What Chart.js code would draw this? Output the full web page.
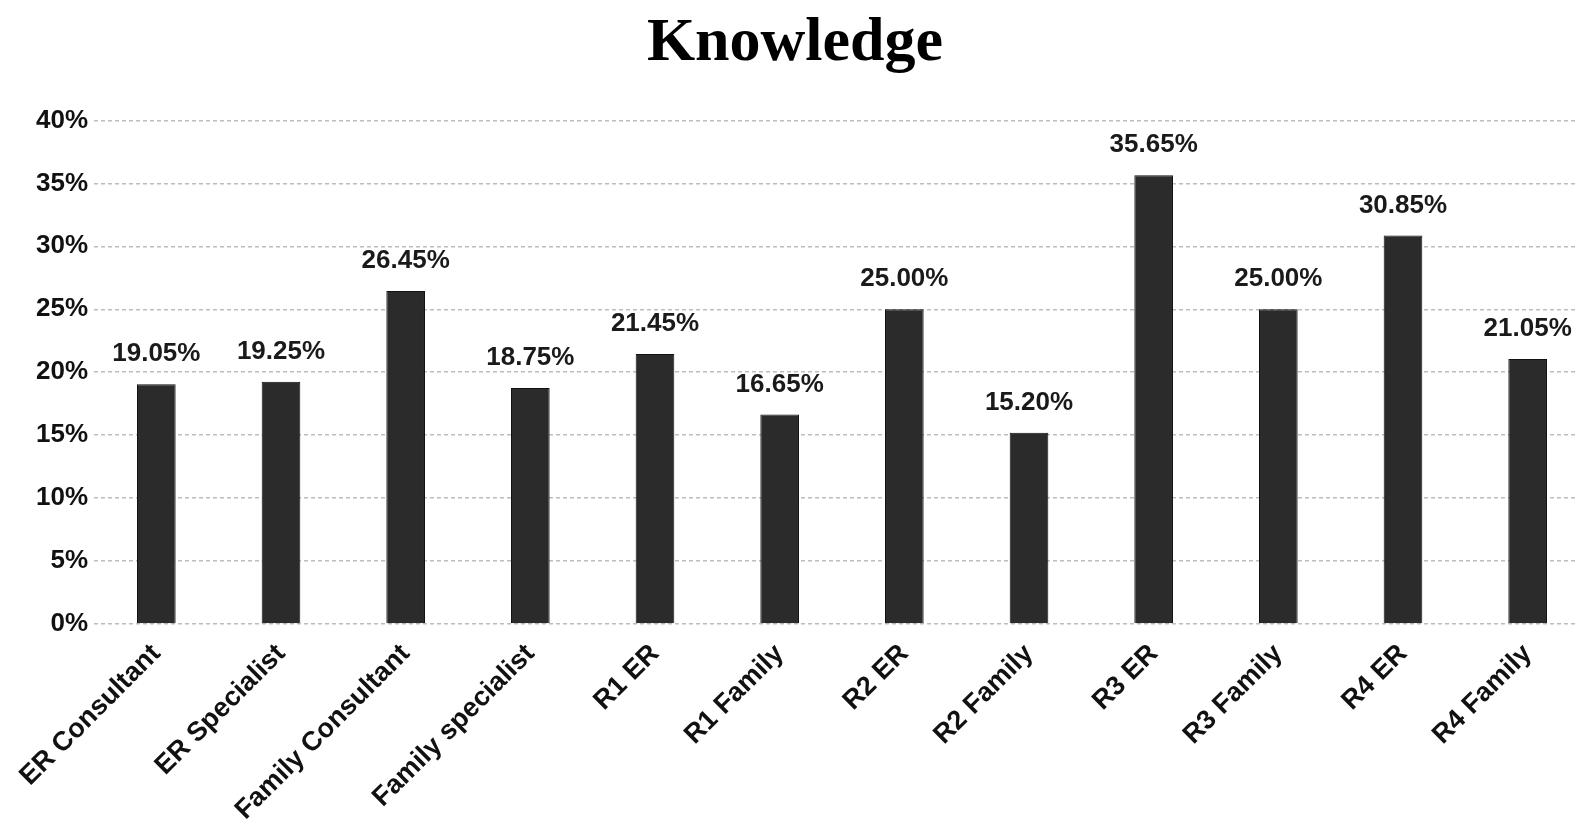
<!DOCTYPE html>
<html>
<head>
<meta charset="utf-8">
<script src="https://cdn.jsdelivr.net/npm/chart.js@4.4.0/dist/chart.umd.min.js"></script>
<style>
  html, body { margin: 0; padding: 0; background: #fff; overflow: hidden; }
  #wrap { width: 1590px; height: 839px; }
</style>
</head>
<body>
<div id="wrap"><canvas id="knowledge-chart"></canvas></div>
<script>
const categories = ['ER Consultant', 'ER Specialist', 'Family Consultant', 'Family specialist',
    'R1 ER', 'R1 Family', 'R2 ER', 'R2 Family', 'R3 ER', 'R3 Family', 'R4 ER', 'R4 Family'];
const knowledgeValues = [19.05, 19.25, 26.45, 18.75, 21.45, 16.65, 25.00, 15.20, 35.65, 25.00, 30.85, 21.05];
const yTicks = [0, 5, 10, 15, 20, 25, 30, 35, 40];

// draw the value above each bar
const valueLabels = {
    id: 'valueLabels',
    afterDatasetsDraw(chart) {
        const ctx = chart.ctx;
        const meta = chart.getDatasetMeta(0);
        ctx.save();
        ctx.font = 'bold 26px "Liberation Sans", Arial, sans-serif';
        ctx.fillStyle = '#1a1a1a';
        ctx.textAlign = 'center';
        ctx.textBaseline = 'middle';
        meta.data.forEach((bar, i) => {
            ctx.fillText(knowledgeValues[i].toFixed(2) + '%', bar.x, bar.y - 30);
        });
        ctx.restore();
    }
};

new Chart(document.getElementById('knowledge-chart'), {
    type: 'bar',
    data: {
        labels: categories,
        datasets: [{
            label: 'Knowledge',
            data: knowledgeValues,
            backgroundColor: '#2b2b2b',
            borderColor: '#111',
            borderWidth: 1,
            barPercentage: 0.31,
            categoryPercentage: 1.0,
        }]
    },
    options: {
        responsive: true,
        maintainAspectRatio: false,
        animation: false,
        layout: { padding: 0 },
        plugins: {
            legend: { display: false },
            tooltip: { enabled: false },
            title: {
                display: true,
                text: 'Knowledge',
                color: '#000',
                font: { family: '"Liberation Serif", "Times New Roman", serif', size: 62, weight: 'bold' },
                padding: { top: 7, bottom: 39 }
            }
        },
        scales: {
            x: {
                grid: { display: false },
                border: { display: false },
                ticks: {
                    color: '#111',
                    font: { family: '"Liberation Sans", Arial, sans-serif', size: 27, weight: 'bold' },
                    maxRotation: 45,
                    minRotation: 45,
                    padding: 6
                },
                afterFit(scale) { scale.height = 215; }
            },
            y: {
                min: 0,
                max: 40,
                afterBuildTicks(scale) { scale.ticks = yTicks.map(v => ({ value: v })); },
                grid: { color: '#bdbdbd', lineWidth: 1.5, drawTicks: false },
                border: { display: false, dash: [4, 3] },
                ticks: {
                    color: '#111',
                    font: { family: '"Liberation Sans", Arial, sans-serif', size: 26, weight: 'bold' },
                    padding: 6,
                    callback: (v) => v + '%'
                },
                afterFit(scale) { scale.width = 94; }
            }
        }
    },
    plugins: [valueLabels]
});
</script>
</body>
</html>
